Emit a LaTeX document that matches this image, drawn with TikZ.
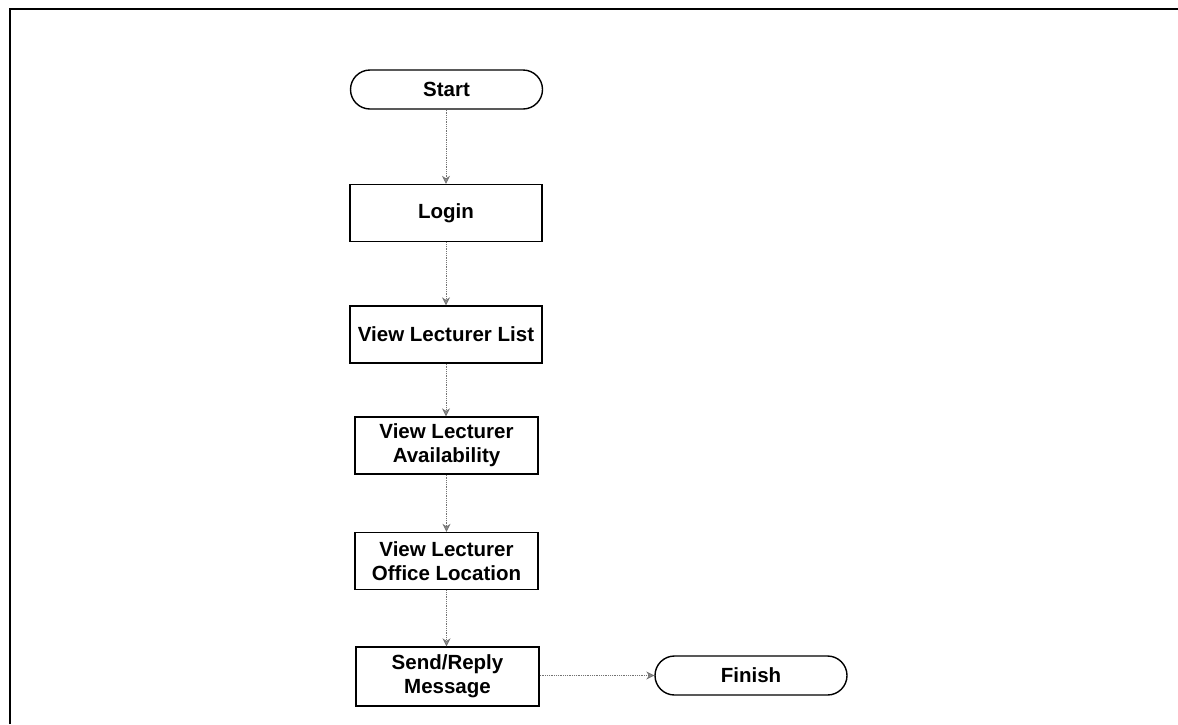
\documentclass[tikz,border=0pt]{standalone}
\usepackage{fontspec}
\setmainfont{Liberation Sans}
\usetikzlibrary{shapes.misc,arrows.meta}
\begin{document}
\begin{tikzpicture}[x=1pt,y=-1pt,
  every node/.style={font=\fontsize{20.5}{24}\selectfont\bfseries, inner sep=0pt, align=center},
  procbox/.style={draw=black, line width=1.4pt, rectangle, minimum width=#1, minimum height=57},
  term/.style={draw=black, line width=1.4pt, rounded rectangle, minimum width=192, minimum height=39},
  flow/.style={draw=black!55, line width=0.8pt, densely dotted, -{Stealth[length=8pt,width=8pt,fill=black!45]}}
]
\useasboundingbox (0,0) rectangle (1178,724);
% frame
\draw[line width=2pt] (10,724) coordinate (fbl) -- (10,9) coordinate (ftl) -- (1178,9) coordinate (ftr);

\node[term] (start) at (446.5,89.5) {Start};
\node[procbox=192] (login) at (446,213) {Login};
\node[procbox=192] (list) at (446,334.5) {View Lecturer List};
\node[procbox=183] (avail) at (446.5,445.5) {View Lecturer\\Availability};
\node[procbox=183] (office) at (446.5,561) {View Lecturer\\Office Location};
\node[procbox=183, minimum height=59] (send) at (447.5,676.5) {Send/Reply\\Message};
\node[term] (finish) at (751,675.5) {Finish};

\draw[flow] (start.south -| login.north) -- (login.north);
\draw[flow] (login.south) -- (list.north);
\draw[flow] (list.south) -- (list.south |- avail.north);
\draw[flow] (avail.south) -- (office.north);
\draw[flow] (office.south) -- (office.south |- send.north);
\draw[flow] (send.east |- finish.west) -- (finish.west);
\end{tikzpicture}
\end{document}
